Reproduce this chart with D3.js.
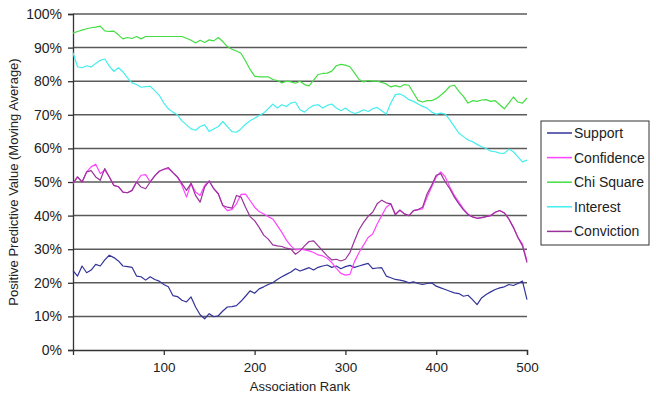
<!DOCTYPE html>
<html>
<head>
<meta charset="utf-8">
<script src="https://cdn.jsdelivr.net/npm/d3@7"></script>
<style>
    body { margin: 0; background: #fff; }
    text { font-family: Arial, "Liberation Sans", sans-serif; fill: #222; }
</style>
</head>
<body>
<div id="line-chart"></div>
<script>
// association rank, every 5
const ranks = d3.range(0, 505, 5);

const support = [
    23.6, 22.0, 25.0, 23.0, 23.8, 25.5, 25.0, 26.8, 28.2, 27.5,
    26.5, 25.0, 24.8, 24.6, 22.0, 21.8, 20.8, 21.8, 21.0, 20.5,
    19.5, 18.8, 16.2, 15.9, 14.8, 14.3, 15.8, 12.8, 10.5, 9.3,
    10.8, 9.9, 10.2, 11.6, 12.8, 12.9, 13.2, 14.5, 16.0, 17.6,
    16.9, 18.2, 18.8, 19.5, 20.0, 21.0, 21.8, 22.5, 23.2, 24.2,
    23.5, 24.0, 24.5, 23.8, 24.6, 25.0, 25.3, 24.6, 25.0, 24.2,
    24.8, 25.2, 24.6, 25.0, 25.4, 25.8, 24.2, 24.4, 24.5, 22.0,
    21.5, 21.0, 20.8, 20.5, 20.0, 20.3, 19.8, 19.5, 19.8, 20.0,
    19.0, 18.5, 18.0, 17.5, 17.0, 16.8, 16.0, 16.3, 15.0, 13.5,
    15.5, 16.5, 17.3, 18.0, 18.5, 18.8, 19.5, 19.2, 19.8, 20.5,
    15.0
];

const confidence = [
    49.6, 51.5, 50.0, 53.0, 54.5, 55.3, 52.5, 53.5, 51.5, 49.0,
    48.6, 47.0, 46.8, 47.5, 50.0, 52.0, 52.2, 50.0, 51.8, 53.2,
    53.8, 54.0, 52.8, 51.5, 49.0, 45.5, 49.6, 47.0, 46.0, 49.0,
    50.3, 48.0, 46.5, 43.0, 41.5, 41.8, 43.5, 46.3, 46.4, 44.5,
    42.5, 41.2, 40.5, 39.7, 39.0, 37.0, 35.0, 32.7, 31.0, 29.8,
    30.0, 29.8, 29.5, 29.0, 28.3, 28.0, 27.3, 26.0, 24.3, 22.8,
    22.3, 22.5, 26.3, 29.0, 31.2, 33.5, 34.5, 37.5, 40.0, 42.5,
    43.5, 40.5, 41.5, 40.5, 40.0, 41.5, 41.8, 42.0, 45.5, 48.5,
    51.5, 53.0, 51.5, 48.5, 46.0, 44.0, 42.0, 40.5, 39.6, 39.2,
    39.4, 39.7, 40.0, 41.0, 41.5, 40.8, 39.0, 36.5, 33.5, 31.5,
    26.5
];

const chiSquare = [
    94.3, 94.8, 95.2, 95.6, 95.9, 96.1, 96.4, 95.0, 94.8, 94.9,
    93.8, 92.6, 93.0, 92.7, 93.3, 92.6, 93.3, 93.3, 93.3, 93.3,
    93.3, 93.3, 93.3, 93.3, 93.3, 92.8, 92.2, 91.4, 92.2, 91.5,
    92.3, 92.0, 93.0, 91.8, 90.3, 89.5, 89.0, 88.3, 86.0, 83.5,
    81.5, 81.3, 81.3, 81.3, 80.5, 80.2, 79.5, 80.0, 79.8, 79.4,
    80.0, 79.0, 78.6, 80.3, 82.0, 82.3, 82.4, 83.0, 84.6, 85.0,
    84.8, 84.3, 82.5, 80.5, 79.8, 80.2, 80.0, 80.0, 79.6, 79.2,
    78.3, 78.7, 78.3, 79.0, 78.8, 76.5, 74.3, 73.8, 74.2, 74.2,
    74.8, 75.8, 77.0, 78.5, 78.8, 77.0, 75.5, 73.5, 74.2, 74.0,
    74.4, 74.5, 74.0, 74.2, 73.0, 71.8, 73.5, 75.3, 73.8, 73.5,
    75.0
];

const interest = [
    88.5, 84.3, 84.0, 84.6, 84.2, 85.3, 86.2, 86.6, 84.5, 82.9,
    84.0, 82.8, 81.0, 79.5, 79.0, 78.2, 78.4, 78.5, 77.2, 75.8,
    73.5, 71.8, 70.8, 70.0, 68.2, 67.0, 65.8, 65.4, 66.5, 67.0,
    65.0, 65.8, 66.5, 68.0, 66.5, 65.0, 64.8, 65.8, 67.2, 68.2,
    69.0, 69.8, 70.5, 71.8, 73.2, 72.0, 73.0, 72.5, 73.5, 73.8,
    71.5, 70.8, 72.0, 72.8, 73.0, 72.0, 72.8, 73.2, 72.0, 71.2,
    72.0, 71.0, 70.4, 70.8, 71.5, 71.0, 71.8, 72.2, 71.2, 70.2,
    73.5, 76.0, 76.2, 75.5, 74.5, 74.0, 73.2, 72.5, 72.0, 70.8,
    70.2, 70.5, 70.2, 68.5, 66.5, 64.5, 63.5, 62.5, 62.0, 61.2,
    60.5, 60.0, 59.2, 59.0, 58.6, 58.5, 59.8, 59.0, 57.5, 56.0,
    56.5
];

const conviction = [
    49.6, 51.5, 50.0, 53.0, 53.4, 51.5, 50.5, 54.0, 51.5, 49.0,
    48.6, 47.0, 46.8, 47.5, 50.0, 48.5, 48.0, 50.0, 51.8, 53.2,
    53.8, 54.3, 52.8, 51.5, 49.5, 47.5, 49.6, 46.0, 44.0, 48.5,
    50.3, 48.0, 46.5, 43.0, 42.5, 42.2, 46.0, 45.5, 42.5, 39.7,
    38.5, 36.5, 34.2, 33.0, 31.3, 31.0, 30.8, 30.3, 30.0, 28.5,
    29.5, 31.0, 32.3, 32.5, 31.0, 29.5, 28.0, 26.8, 27.0, 26.5,
    27.0, 29.0, 32.5, 35.8, 38.0, 39.8, 41.0, 43.5, 44.6, 43.8,
    43.5, 40.2, 41.7, 40.5, 40.0, 41.5, 41.8, 42.5, 46.5, 49.0,
    52.0, 52.5, 50.0, 48.0, 45.5, 43.5, 41.7, 40.3, 39.6, 39.2,
    39.4, 39.7, 40.0, 41.0, 41.5, 40.8, 39.0, 36.5, 33.5, 31.0,
    26.0
];

const seriesNames = ["Support", "Confidence", "Chi Square", "Interest", "Conviction"];
const seriesValues = [support, confidence, chiSquare, interest, conviction];
const seriesColors = ["#333399", "#ff44ff", "#44dd44", "#44eeee", "#993399"];

const yTicks = d3.range(0, 101, 10);
const xTicks = [100, 200, 300, 400, 500];

const drawLineChart = () => {
    const margin = { top: 14, right: 129, bottom: 53, left: 73 };
    const width = 656;
    const height = 403;
    const innerWidth = width - margin.left - margin.right;
    const innerHeight = height - margin.top - margin.bottom;

    const svg = d3.select("#line-chart")
        .append("svg")
        .attr("width", width)
        .attr("height", height)
        .attr("viewBox", `0, 0, ${width}, ${height}`);

    const innerChart = svg.append("g")
        .attr("transform", `translate(${margin.left}, ${margin.top})`);

    const xScale = d3.scaleLinear()
        .domain([0, 500])
        .range([0, innerWidth]);

    const yScale = d3.scaleLinear()
        .domain([0, 100])
        .range([innerHeight, 0]);

    // gridlines
    innerChart.append("g")
        .attr("class", "grid")
        .selectAll("line")
        .data(yTicks.filter(d => d > 0))
        .join("line")
        .attr("x1", 0)
        .attr("x2", innerWidth)
        .attr("y1", d => yScale(d))
        .attr("y2", d => yScale(d))
        .attr("stroke", "#5a5a5a")
        .attr("stroke-width", 1.5);

    // y axis
    const leftAxis = d3.axisLeft(yScale)
        .tickValues(yTicks)
        .tickFormat(d => d + "%")
        .tickSizeOuter(0)
        .tickSize(5)
        .tickPadding(6);

    const yAxis = innerChart.append("g")
        .attr("class", "axis-y")
        .call(leftAxis);
    yAxis.selectAll("text")
        .style("font-size", "14px")
        .attr("fill", "#222");
    yAxis.selectAll("line, path").attr("stroke", "#333").attr("stroke-width", 1.3);

    // x axis
    const bottomAxis = d3.axisBottom(xScale)
        .tickValues(xTicks)
        .tickSizeOuter(0)
        .tickSize(5)
        .tickPadding(7);

    const xAxis = innerChart.append("g")
        .attr("class", "axis-x")
        .attr("transform", `translate(0, ${innerHeight})`)
        .call(bottomAxis);
    xAxis.selectAll("text")
        .style("font-size", "13.5px")
        .attr("fill", "#222");
    xAxis.selectAll("line, path").attr("stroke", "#333").attr("stroke-width", 1.3);

    // lines
    const line = d3.line()
        .x((d, i) => xScale(ranks[i]))
        .y(d => yScale(d));

    innerChart.selectAll(".series")
        .data(seriesValues)
        .join("path")
        .attr("class", "series")
        .attr("d", d => line(d))
        .attr("fill", "none")
        .attr("stroke", (d, i) => seriesColors[i])
        .attr("stroke-width", 1.2)
        .attr("stroke-linejoin", "round");

    // axis titles
    svg.append("text")
        .text("Association Rank")
        .attr("x", margin.left + innerWidth / 2)
        .attr("y", 391)
        .attr("text-anchor", "middle")
        .style("font-size", "13px");

    svg.append("text")
        .text("Positive Predictive Value (Moving Average)")
        .attr("transform", `translate(18, ${margin.top + innerHeight / 2}) rotate(-90)`)
        .attr("text-anchor", "middle")
        .style("font-size", "13px");

    // legend
    const legend = svg.append("g")
        .attr("transform", "translate(541, 121)");

    legend.append("rect")
        .attr("width", 108)
        .attr("height", 124)
        .attr("fill", "#fff")
        .attr("stroke", "#333")
        .attr("stroke-width", 1);

    const items = legend.selectAll(".item")
        .data(seriesNames)
        .join("g")
        .attr("class", "item")
        .attr("transform", (d, i) => `translate(0, ${12 + i * 24.6})`);

    items.append("line")
        .attr("x1", 6)
        .attr("x2", 31)
        .attr("stroke", (d, i) => seriesColors[i])
        .attr("stroke-width", 1.5);

    items.append("text")
        .text(d => d)
        .attr("x", 33)
        .attr("dy", "0.35em")
        .style("font-size", "14px");
};

drawLineChart();
</script>
</body>
</html>
